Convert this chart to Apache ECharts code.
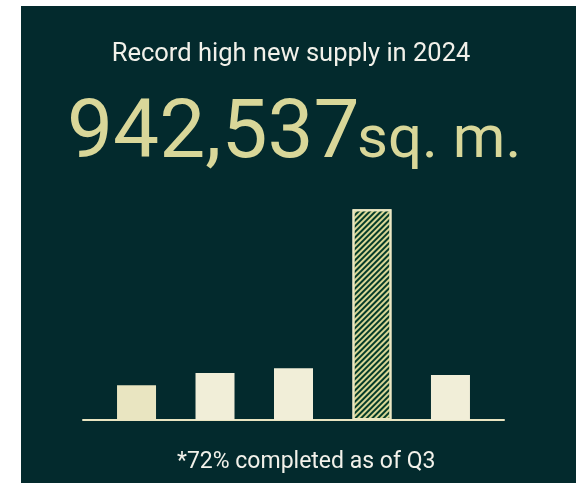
<!DOCTYPE html>
<html><head><meta charset="utf-8">
<script src="https://cdn.jsdelivr.net/npm/echarts@6/dist/echarts.min.js"></script>
<style>html,body{margin:0;padding:0;background:#fff}#c{width:582px;height:483px}</style>
</head><body><div id="c"></div>
<script>
const categories = ['2021', '2022', '2023', '2024', '2025'];
const supplyValues = [156000, 210000, 232000, 942537, 201000];
const titleText = 'Record high new supply in 2024';
const bigNumber = '942,537';
const bigUnit = 'sq. m.';
const footnote = '*72% completed as of Q3';

const chart = echarts.init(document.getElementById('c'), null, {renderer: 'canvas'});
const barColors = ['#e9e5c1', '#f1eed8', '#f1eed8', '#053b28', '#f1eed8'];
const data = supplyValues.map((v, i) => {
  const d = {value: [i, v], name: categories[i], itemStyle: {color: barColors[i]}};
  if (i === 3) {
    d.itemStyle = {
      color: '#053b28',
      borderColor: '#ebe7c3',
      borderWidth: 2,
      decal: {
        symbol: 'rect',
        symbolSize: 1,
        color: '#d9d797',
        backgroundColor: 'rgba(0,0,0,0)',
        dashArrayX: [1, 0],
        dashArrayY: [2, 2],
        rotation: -Math.PI / 4
      }
    };
  }
  return d;
});

const txt = '#d9d799';
chart.setOption({
  backgroundColor: '#fff',
  animation: false,
  graphic: [{type: 'rect', shape: {x: 21, y: 6, width: 555, height: 477}, style: {fill: '#032a2d'}, z: -10, silent: true}],
  title: [
    {text: titleText, left: 'center', top: 37, textStyle: {color: '#f2f1ea', fontFamily: 'Roboto', fontSize: 25.5, fontWeight: 'normal'}},
    {text: bigNumber, left: 62, top: 90, textStyle: {color: txt, fontFamily: 'Roboto', fontSize: 82, fontWeight: 'normal'}},
    {text: bigUnit, left: 352, top: 107, textStyle: {color: txt, fontFamily: 'Roboto', fontSize: 60, fontWeight: 'normal'}},
    {text: footnote, left: 172, top: 446, textStyle: {color: '#f2f1ea', fontFamily: 'Roboto', fontSize: 23, fontWeight: 'normal'}}
  ],
  grid: {left: 83, right: 78, top: 196.5, bottom: 63},
  xAxis: {type: 'value', min: -0.682, max: 4.682, splitLine: {show: false}, axisLabel: {show: false}, axisTick: {show: false},
          axisLine: {show: true, lineStyle: {color: '#e9e5c1', width: 2}}},
  yAxis: {type: 'value', min: 0, max: 1000000, show: false, splitLine: {show: false}},
  series: [{type: 'bar', data: data, barWidth: 39}]
});
</script></body></html>
